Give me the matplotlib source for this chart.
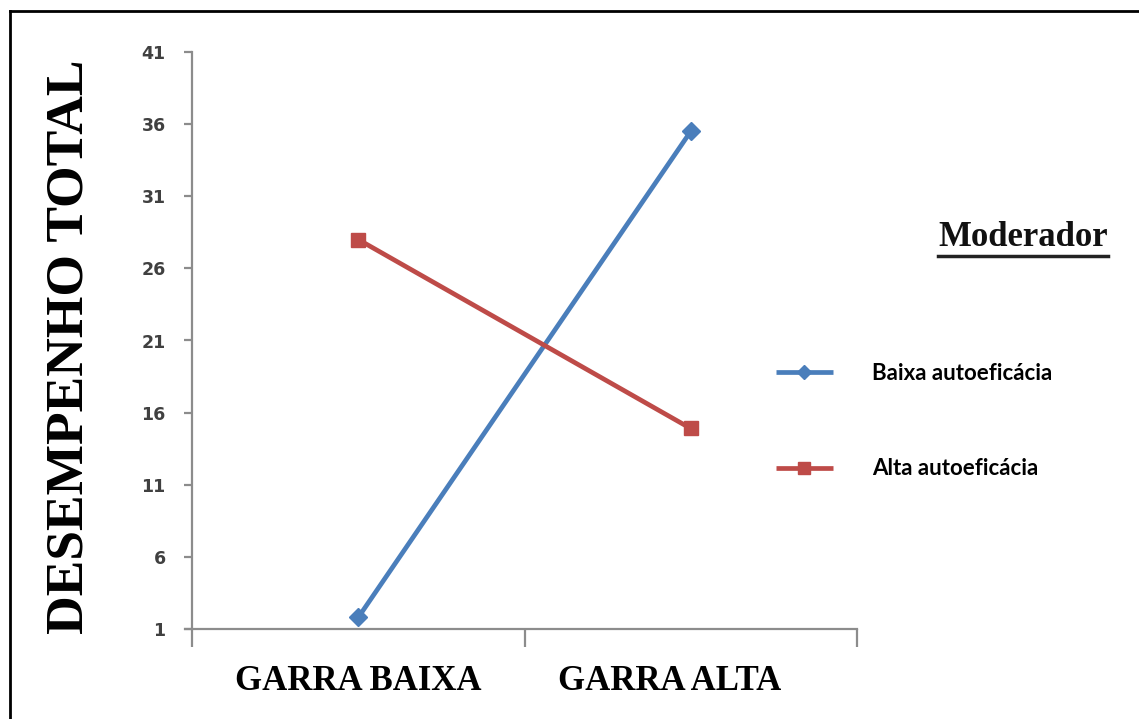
import matplotlib.pyplot as plt
from matplotlib.lines import Line2D
from matplotlib.transforms import ScaledTranslation

# Data
categories = ["GARRA BAIXA", "GARRA ALTA"]
baixa_autoeficacia = [1.8, 35.5]
alta_autoeficacia = [28.0, 14.9]
series_labels = ["Baixa autoeficácia", "Alta autoeficácia"]
y_ticks = [1, 6, 11, 16, 21, 26, 31, 36, 41]

W, H = 1139, 719
fig = plt.figure(figsize=(W / 100, H / 100), dpi=100)
fig.patch.set_facecolor("white")

ax = fig.add_axes([192 / W, 1 - 629 / H, (857 - 192) / W, (629 - 52) / H])

x = [0.5, 1.5]
blue = "#4A7EBB"
red = "#BE4B48"
l1, = ax.plot(x, baixa_autoeficacia, color=blue, lw=3.4, marker="D", ms=9,
              solid_capstyle="butt", zorder=3)
l2, = ax.plot(x, alta_autoeficacia, color=red, lw=3.4, marker="s", ms=10,
              solid_capstyle="butt", zorder=3)

ax.set_xlim(0, 2)
ax.set_ylim(1, 41)
ax.set_yticks(y_ticks)
ax.set_yticklabels([str(v) for v in y_ticks])
ax.set_xticks([0, 1, 2])
ax.set_xticklabels([])
ax.set_xticks(x, minor=True)
ax.set_xticklabels(categories, minor=True, fontfamily="Liberation Serif",
                   fontweight="bold", fontsize=25, color="black")
ax.tick_params(axis="x", which="minor", length=0, pad=26)
# second category label sits a little left of its slot
minor_labels = ax.get_xticklabels(minor=True)
minor_labels[1].set_transform(minor_labels[1].get_transform()
                              + ScaledTranslation(-0.21, 0, fig.dpi_scale_trans))

axis_col = "#8C8C8C"
for side in ["top", "right"]:
    ax.spines[side].set_visible(False)
for side in ["left", "bottom"]:
    ax.spines[side].set_color(axis_col)
    ax.spines[side].set_linewidth(1.6)
ax.spines["bottom"].set_bounds(-0.02, 2)
ax.tick_params(axis="y", which="major", length=6, width=1.6, color=axis_col,
               labelsize=12.5, labelcolor="#404040", pad=13)
ax.tick_params(axis="x", which="major", length=13, width=1.6, color=axis_col)
for lab in ax.get_yticklabels():
    lab.set_fontweight("bold")
    lab.set_fontfamily("DejaVu Sans")

fig.text(70 / W, 1 - 347 / H, "DESEMPENHO TOTAL", rotation=90,
         fontfamily="Liberation Serif", fontweight="bold", fontsize=38.5,
         ha="center", va="center", color="black")

# Legend heading
fig.text(1023 / W, 1 - 238 / H, "Moderador", fontfamily="Liberation Serif",
         fontweight="bold", fontsize=25, ha="center", va="center", color="#111111")
fig.add_artist(Line2D([938 / W, 1108 / W], [1 - 256 / H, 1 - 256 / H],
                      color="#222222", lw=2.5, transform=fig.transFigure))

leg = fig.legend([l1, l2], series_labels, loc="upper left",
                 bbox_to_anchor=(756 / W, 1 - 343 / H), frameon=False,
                 prop={"family": "Lato", "weight": "bold", "size": 16},
                 handlelength=2.55, handletextpad=1.77, labelspacing=3.35,
                 markerscale=0.8)

# Page frame (top and left edges)
fig.add_artist(Line2D([9.5 / W, 1], [1 - 10.5 / H, 1 - 10.5 / H], color="black",
                      lw=2, transform=fig.transFigure))
fig.add_artist(Line2D([9.5 / W, 9.5 / W], [0, 1 - 10.5 / H], color="black",
                      lw=2, transform=fig.transFigure))

fig.savefig("out.png", dpi=100)
